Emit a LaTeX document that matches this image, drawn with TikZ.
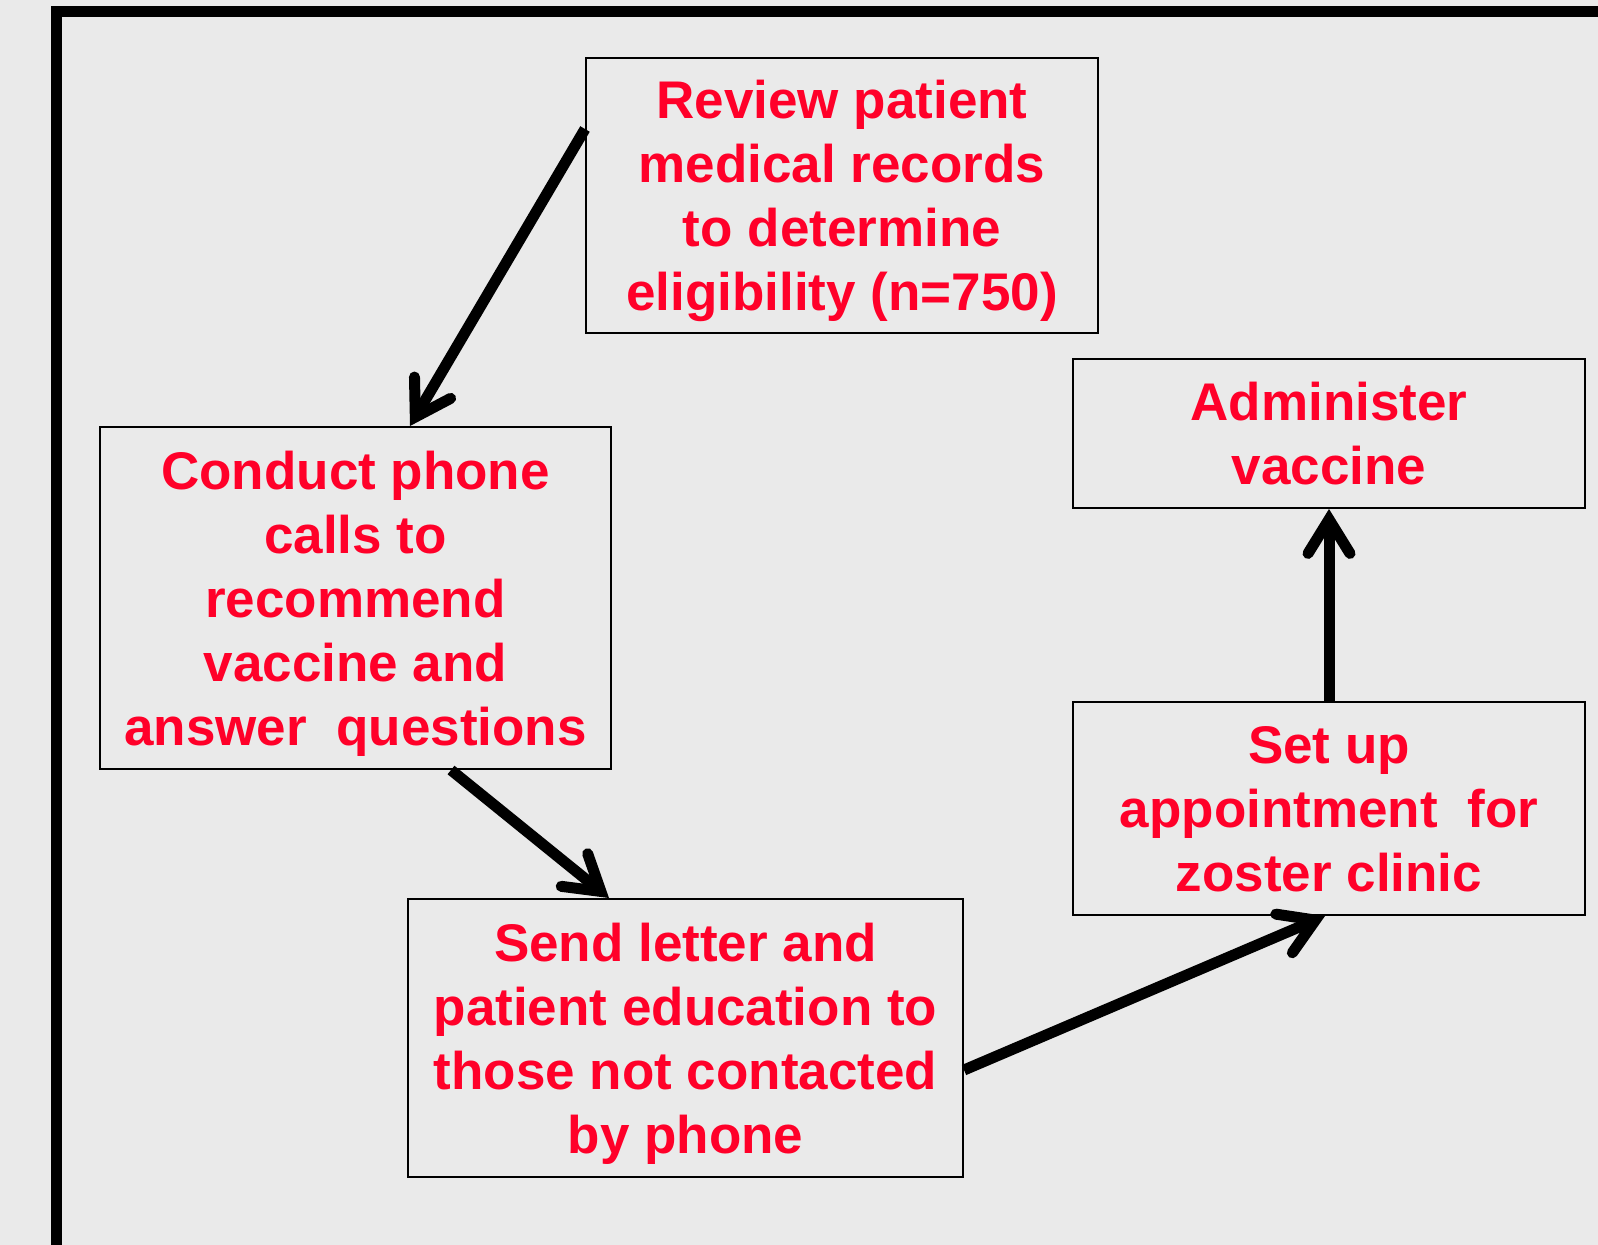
\documentclass[tikz,border=0pt]{standalone}
\usepackage{fontspec}
\setmainfont{Liberation Sans}
\usetikzlibrary{arrows.meta,calc}
\definecolor{bg}{RGB}{234,234,234}
\definecolor{txt}{RGB}{255,0,41}
\begin{document}
\begin{tikzpicture}[x=0.5pt,y=-0.5pt,
  box/.style={draw=black,line width=1pt,inner sep=0pt,align=center,text=txt,
    text depth=0pt,font=\fontsize{26.5}{32}\selectfont\bfseries},
  arr/.style={line width=5.5pt,
    -{Straight Barb[length=17pt,width=21pt,line cap=round,line join=miter]}}]
\useasboundingbox (0,0) rectangle (1598,1245);
\fill[bg] (0,0) rectangle (1598,1245);
\begin{scope}
  \clip (0,0) rectangle (1598,1245);
  \draw[line width=5.5pt] (56.5,1270) -- (56.5,11.5) -- (1620,11.5);
\end{scope}
\node[box,minimum width=256pt,minimum height=137.5pt] (review) at (842,195.5)
  {Review patient\\medical records\\to determine\\eligibility (n=750)};
\node[box,minimum width=255.5pt,minimum height=171pt] (conduct) at (355.5,598)
  {Conduct phone\\calls to\\recommend\\vaccine and\\answer~~questions};
\node[box,minimum width=256pt,minimum height=74.5pt] (admin) at (1329,433.5)
  {Administer\\vaccine};
\node[box,minimum width=256pt,minimum height=106.5pt] (setup) at (1329,808.5)
  {Set up\\appointment~~for\\zoster clinic};
\node[box,minimum width=277.5pt,minimum height=139pt] (send) at (685.5,1038)
  {Send letter and\\patient education to\\those not contacted\\by phone};
\draw[arr] ($(review.north west)+(0,72)$) -- ($(conduct.north)+(54.5,0)$);
\draw[arr] ($(conduct.south)+(95.5,0)$) -- ($(send.north)+(-76.5,0)$);
\draw[arr] ($(send.east)+(0,32)$) -- ($(setup.south)+(-4,0)$);
\draw[arr] (setup.north) -- (admin.south);
\end{tikzpicture}
\end{document}
